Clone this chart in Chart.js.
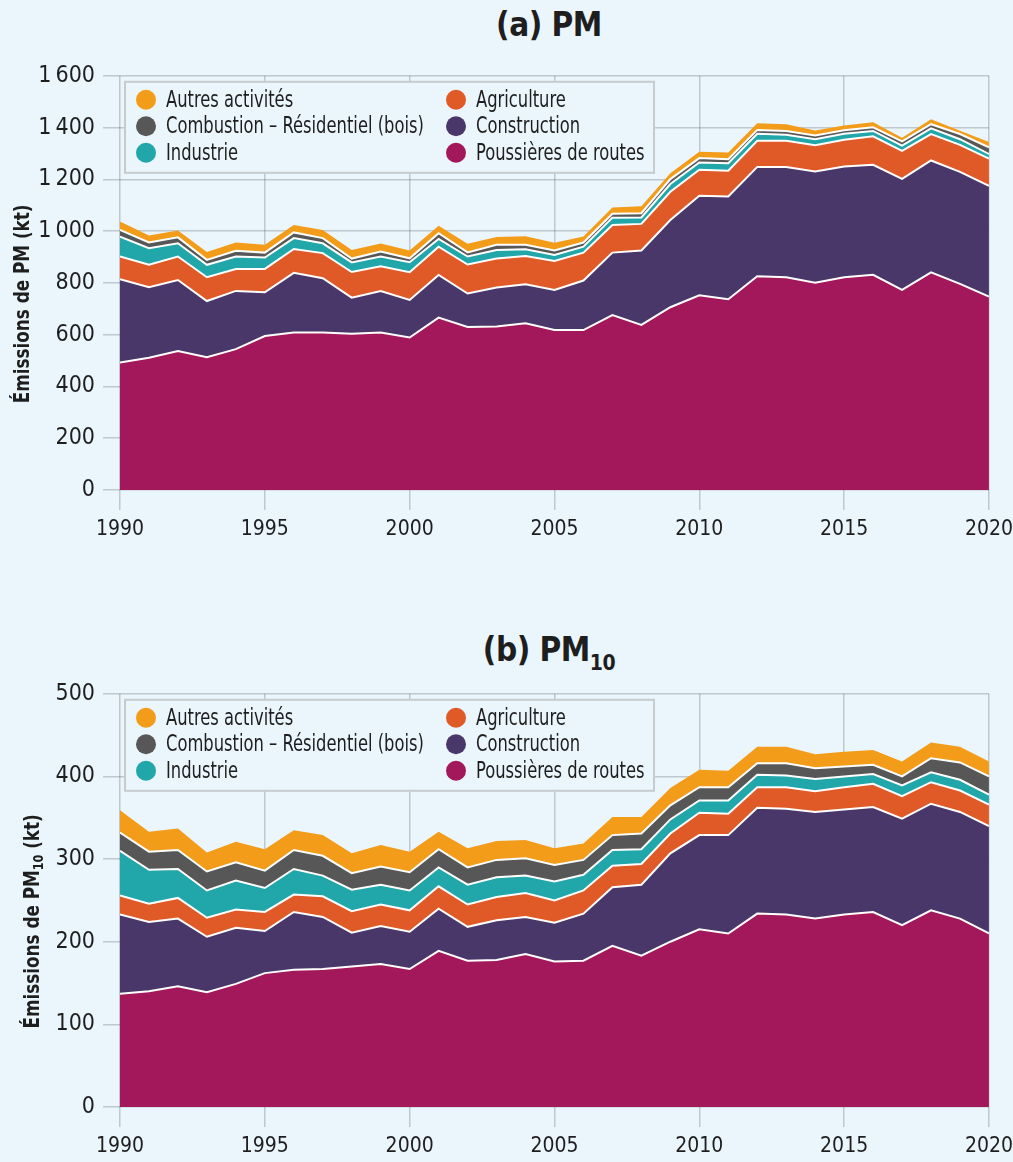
<!DOCTYPE html>
<html lang="fr">
<head>
<meta charset="utf-8">
<title>Émissions de PM et PM10</title>
<script src="https://cdn.jsdelivr.net/npm/chart.js@4/dist/chart.umd.min.js"></script>
<style>
  html, body { margin: 0; padding: 0; }
  body { width: 1013px; height: 1162px; background: #eaf5fc; position: relative; overflow: hidden;
         font-family: 'Liberation Sans Narrow', 'DejaVu Sans Condensed', 'Liberation Sans', sans-serif; color: #1e1e1e; }
  .title { position: absolute; left: 114px; width: 870px; text-align: center; font-weight: bold;
           font-size: 33px; line-height: 36px; letter-spacing: -0.5px; }
  .title sub { font-size: 21px; vertical-align: -9px; line-height: 0; }
  .box { position: absolute; left: 0; width: 1020px; }
</style>
</head>
<body>
<div class="title" style="top:7px">(a) PM</div>
<div class="box" style="top:54px;height:496px"><canvas id="chartPM"></canvas></div>
<div class="title" style="top:632px">(b) PM<sub>10</sub></div>
<div class="box" style="top:672px;height:490px"><canvas id="chartPM10"></canvas></div>
<script>
// années 1990 à 2020
const years = [1990,1991,1992,1993,1994,1995,1996,1997,1998,1999,2000,2001,2002,2003,2004,2005,
               2006,2007,2008,2009,2010,2011,2012,2013,2014,2015,2016,2017,2018,2019,2020];

// (a) PM, kt
const pmRoutes       = [492,511,537,513,544,595,608,608,604,608,589,666,630,632,644,618,618,676,638,706,752,737,826,822,801,822,831,773,841,796,747];
const pmConstruction = [322,272,274,217,225,169,231,210,139,161,145,165,129,150,151,155,191,241,287,337,385,397,422,426,429,428,425,429,432,433,428];
const pmAgriculture  = [88,87,91,92,85,90,92,97,99,95,107,109,112,112,109,112,108,107,103,109,100,99,101,101,102,103,110,108,102,104,105];
const pmIndustrie    = [77,64,51,48,48,44,42,38,37,38,39,30,31,33,26,23,23,28,25,30,28,29,27,23,23,23,21,20,22,22,18];
const pmCombustion   = [26,22,23,19,22,19,22,20,15,19,15,22,16,20,17,17,16,15,16,19,17,16,15,15,14,14,14,17,16,20,26];
const pmAutres       = [32,27,26,30,32,30,29,31,33,31,30,29,33,30,33,30,23,24,27,23,25,26,26,26,20,18,20,14,19,13,20];

// (b) PM10, kt
const pm10Routes       = [137,140,146,139,149,162,166,167,170,173,167,189,177,178,185,176,177,195,183,200,215,210,234,233,228,233,236,220,238,228,210];
const pm10Construction = [96,84,82,67,68,51,70,63,41,46,45,51,41,48,45,47,57,71,86,107,114,119,128,128,129,127,127,129,129,129,130];
const pm10Agriculture  = [23,22,25,23,22,23,21,25,26,26,26,27,27,28,29,27,28,26,25,24,27,26,25,26,25,27,28,27,26,26,26];
const pm10Industrie    = [54,41,35,33,35,29,31,25,26,24,24,23,24,24,21,23,19,19,18,17,15,16,15,14,15,13,12,13,12,13,12];
const pm10Combustion   = [22,22,23,23,22,21,23,24,20,22,22,22,21,21,21,20,18,18,19,17,16,16,14,15,13,12,11,11,17,21,22];
const pm10Autres       = [27,24,26,23,25,26,24,25,24,26,25,21,23,23,22,20,20,22,20,21,21,20,20,20,17,18,18,18,19,19,18];

// catégories, de bas en haut de la pile
const categories = ['Poussières de routes', 'Construction', 'Agriculture', 'Industrie',
                    'Combustion – Résidentiel (bois)', 'Autres activités'];
const colors = ['#a2185a', '#4a3769', '#e05a28', '#21a6a9', '#575757', '#f39c19'];
// ordre d'affichage dans la légende (deux colonnes)
const legendOrder = ['Autres activités', 'Combustion – Résidentiel (bois)', 'Industrie',
                     'Agriculture', 'Construction', 'Poussières de routes'];

const BG = '#eaf5fc';
const FONT = "'Liberation Sans Narrow', 'DejaVu Sans Condensed', 'Liberation Sans', sans-serif";
const TEXT = '#1e1e1e';
const GRID = 'rgba(0,0,0,0.18)';

Chart.defaults.font.family = FONT;
Chart.defaults.color = TEXT;

// séparateur de milliers à la française
function fmt(v) {
  return String(v).replace(/\B(?=(\d{3})+(?!\d))/g, '\u202F');
}

// légende encadrée (par-dessus la grille) et titre de l'axe y avec indice
const boxLegend = {
  id: 'boxLegend',
  afterDraw(chart, args, opts) {
    const { ctx, chartArea } = chart;
    const x0 = chartArea.left + 5, y0 = chartArea.top + 6;
    ctx.save();
    ctx.fillStyle = BG;
    ctx.fillRect(x0, y0, 529, 91);
    ctx.strokeStyle = '#c6cbce';
    ctx.lineWidth = 2;
    ctx.strokeRect(x0, y0, 529, 91);
    ctx.font = '23px ' + FONT;
    ctx.textBaseline = 'middle';
    legendOrder.forEach((name, i) => {
      const ds = chart.data.datasets.find(d => d.label === name);
      const col = Math.floor(i / 3), row = i % 3;
      const cx = x0 + 21 + col * 310;
      const cy = y0 + 18 + row * 26.5;
      ctx.fillStyle = ds.backgroundColor;
      ctx.beginPath();
      ctx.arc(cx, cy, 10, 0, Math.PI * 2);
      ctx.fill();
      ctx.save();
      ctx.translate(cx + 20, cy + 1);
      ctx.scale(0.79, 1); // police étroite
      ctx.fillStyle = TEXT;
      ctx.fillText(name, 0, 0);
      ctx.restore();
    });
    ctx.restore();

    // titre de l'axe y : [texte, indice, suite]
    const parts = opts.yTitle;
    const big = 'bold 21px ' + FONT, small = 'bold 14px ' + FONT;
    ctx.save();
    ctx.fillStyle = TEXT;
    ctx.textBaseline = 'alphabetic';
    ctx.font = big;
    const w0 = ctx.measureText(parts[0]).width, w2 = ctx.measureText(parts[2]).width;
    ctx.font = small;
    const w1 = parts[1] ? ctx.measureText(parts[1]).width : 0;
    const total = w0 + w1 + w2;
    const yc = (chartArea.top + chartArea.bottom) / 2 + 21;
    ctx.translate(opts.titleX, yc);
    ctx.rotate(-Math.PI / 2);
    ctx.scale(0.89, 1);
    let x = -total / 2;
    ctx.font = big;
    ctx.fillText(parts[0], x, 0);
    x += w0;
    if (parts[1]) {
      ctx.font = small;
      ctx.fillText(parts[1], x, 4);
      x += w1;
    }
    ctx.font = big;
    ctx.fillText(parts[2], x, 0);
    ctx.restore();
  }
};

function makeChart(id, series, yMax, yStep, yTitle, titleX, xHeight) {
  const datasets = categories.map((name, i) => ({
    label: name,
    data: series[i],
    backgroundColor: colors[i],
    borderColor: '#ffffff',
    borderWidth: i === categories.length - 1 ? 0 : 2,
    fill: i === 0 ? 'origin' : '-1',
    pointRadius: 0,
    tension: 0
  }));

  return new Chart(document.getElementById(id), {
    type: 'line',
    data: { labels: years, datasets: datasets },
    plugins: [boxLegend],
    options: {
      responsive: true,
      maintainAspectRatio: false,
      animation: false,
      layout: { padding: { top: 0, left: 0, right: 0, bottom: 0 } },
      plugins: {
        legend: { display: false },
        tooltip: { enabled: false },
        boxLegend: { yTitle: yTitle, titleX: titleX }
      },
      scales: {
        x: {
          type: 'linear',
          min: 1990,
          max: 2020,
          z: 1,
          border: { display: false },
          grid: { color: GRID, lineWidth: 1.5, tickLength: 20 },
          ticks: { stepSize: 5, padding: 7, font: { size: 21 }, callback: v => String(v) },
          afterFit: s => { s.height = xHeight; }
        },
        y: {
          stacked: true,
          min: 0,
          max: yMax,
          z: 1,
          border: { display: false },
          grid: { color: GRID, lineWidth: 1.5, tickLength: 17 },
          ticks: { stepSize: yStep, padding: 8, font: { size: 23 }, callback: v => fmt(v) },
          afterFit: s => { s.width = 120; }
        }
      }
    }
  });
}

makeChart('chartPM',
  [pmRoutes, pmConstruction, pmAgriculture, pmIndustrie, pmCombustion, pmAutres],
  1600, 200, ['Émissions de PM', '', ' (kt)'], 29, 60);

makeChart('chartPM10',
  [pm10Routes, pm10Construction, pm10Agriculture, pm10Industrie, pm10Combustion, pm10Autres],
  500, 100, ['Émissions de PM', '10', ' (kt)'], 39, 55);
</script>
</body>
</html>
